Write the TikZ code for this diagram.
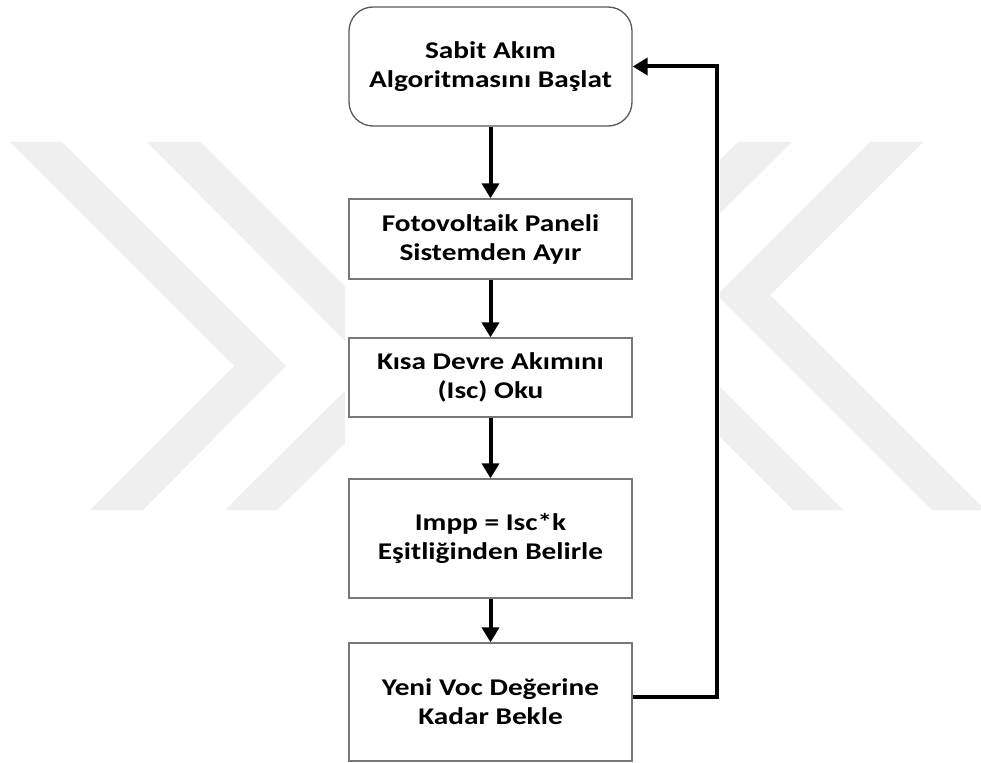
\documentclass[tikz,border=0pt]{standalone}
\usepackage{fontspec}
\setmainfont{Carlito}
\newfontfamily\stepfont{Carlito}[FakeStretch=1.22]
\usetikzlibrary{arrows.meta,calc}
\definecolor{wmark}{RGB}{239,239,239}
\definecolor{boxline}{RGB}{120,120,120}
\tikzset{
  flowbox/.style={draw=boxline, line width=1.3pt, fill=white,
    minimum width=283pt, align=center, inner sep=0pt,
    font=\stepfont\fontsize{24}{29}\selectfont\bfseries},
  startbox/.style={flowbox, rounded corners=24pt, draw=black!65},
  flowarrow/.style={line width=4pt, -{Triangle[length=15pt,width=17pt]}}
}
\begin{document}
\begin{tikzpicture}[x=1pt, y=-1pt]
  \useasboundingbox (0,0) rectangle (981,762);
  \fill[white] (0,0) rectangle (981,762);

  % faint background marks
  \fill[wmark] (10,142) -- (62,142) -- (286,366) -- (143,510) -- (90,510) -- (234,366) -- cycle;
  \fill[wmark] (147,142) -- (200,142) -- (424,366) -- (277,510) -- (225,510) -- (370,366) -- cycle;
  \fill[wmark] (870,142) -- (923,142) -- (770,295) -- (985,510) -- (932,510) -- (717,295) -- cycle;
  \fill[wmark] (738,142) -- (792,142) -- (633,300) -- (843,510) -- (793,510) -- (581,298) -- cycle;

  % drawing sheet behind the flow chart
  \fill[white] (345,0) rectangle (720,762);

  % steps
  \node[startbox, minimum height=119pt] (start) at (490.5,66.5)
    {Sabit Akım\\Algoritmasını Başlat};
  \node[flowbox, minimum height=80pt] (disc) at (490.5,239)
    {Fotovoltaik Paneli\\Sistemden Ayır};
  \node[flowbox, minimum height=79pt] (read) at (490.5,377.5)
    {Kısa Devre Akımını\\(Isc) Oku};
  \node[flowbox, minimum height=119pt] (calc) at (490.5,538.5)
    {Impp = Isc*k\\Eşitliğinden Belirle};
  \node[flowbox, minimum height=118pt] (wait) at (490.5,702)
    {Yeni Voc Değerine\\Kadar Bekle};

  % flow
  \draw[flowarrow] (start) -- (disc);
  \draw[flowarrow] (disc) -- (read);
  \draw[flowarrow] (read) -- (calc);
  \draw[flowarrow] (calc) -- (wait);

  % return loop
  \coordinate (rail) at (717,380);
  \draw[flowarrow] ($(wait.east)+(0,-5)$) -| (rail) |- (start.east);
\end{tikzpicture}
\end{document}
